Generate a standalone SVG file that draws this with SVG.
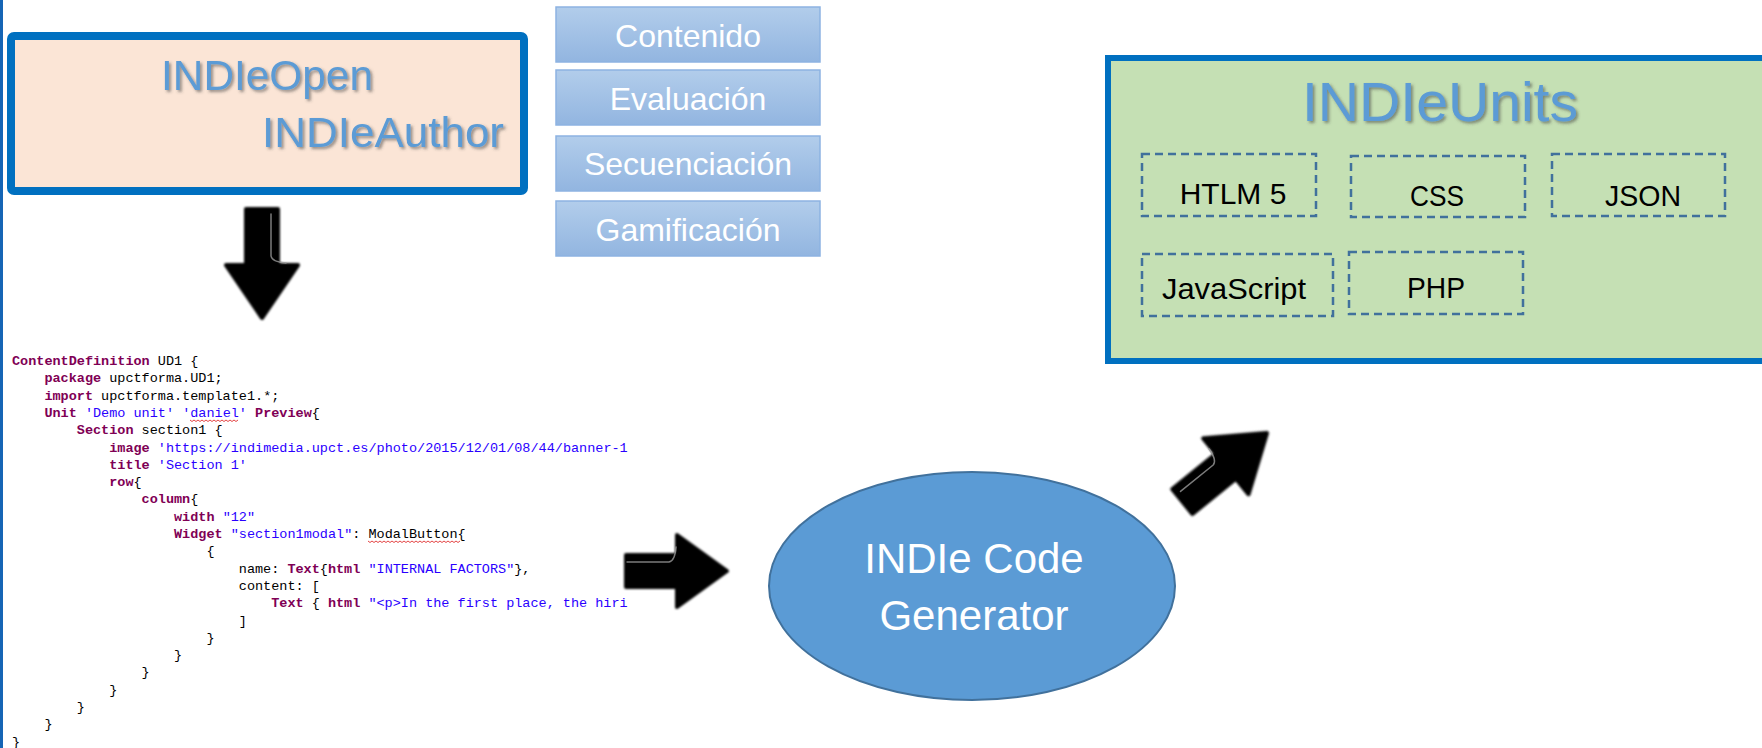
<svg xmlns="http://www.w3.org/2000/svg" width="1762" height="748" viewBox="0 0 1762 748">
<style>
.title{font-family:"Liberation Sans",Arial,sans-serif;fill:#5B9BD5;filter:url(#shadow)}
.tab{font-family:"Liberation Sans",Arial,sans-serif;font-size:32px;fill:#fff;text-anchor:middle}
.tabbox{fill:url(#tabgrad);stroke:#8DB3E2;stroke-width:1.5}
.dash{fill:none;stroke:#41719C;stroke-width:2.5;stroke-dasharray:8 5}
.lang{font-family:"Liberation Sans",Arial,sans-serif;font-size:30px;fill:#000;text-anchor:middle}
.code{font-family:"Liberation Mono","Courier New",monospace;font-size:13.5px;fill:#000;white-space:pre}
.kw{fill:#7F0055;font-weight:bold}
.str{fill:#2A00FF}
.squig{fill:none;stroke:#E03030;stroke-width:0.9}
.arrow{fill:#000;stroke:#000;stroke-width:4;stroke-linejoin:round;filter:url(#soft)}
.hl{fill:none;stroke:#9a9a9a;stroke-width:1.5;stroke-linecap:round;stroke-opacity:0.8}
.gen{font-family:"Liberation Sans",Arial,sans-serif;font-size:42px;fill:#fff;text-anchor:middle}
</style>
<defs>
<linearGradient id="tabgrad" x1="0" y1="0" x2="0" y2="1">
<stop offset="0" stop-color="#B2CDEB"/>
<stop offset="1" stop-color="#92B5E0"/>
</linearGradient>
<filter id="shadow" x="-10%" y="-20%" width="130%" height="150%">
<feDropShadow dx="2" dy="2" stdDeviation="1.5" flood-color="#404040" flood-opacity="0.55"/>
</filter>
<filter id="soft" x="-20%" y="-20%" width="140%" height="140%">
<feGaussianBlur stdDeviation="1.1"/>
</filter>
</defs>

<rect x="0" y="0" width="1762" height="748" fill="#fff"/>
<rect x="0" y="0" width="3" height="748" fill="#1565B5"/>

<g id="indieopen">
<rect x="11" y="36" width="513" height="155" rx="3" fill="#FBE5D6" stroke="#0070C0" stroke-width="8"/>
<text class="title" x="161" y="90" font-size="42" textLength="212" lengthAdjust="spacingAndGlyphs">INDIeOpen</text>
<text class="title" x="262" y="147" font-size="42" textLength="242" lengthAdjust="spacingAndGlyphs">INDIeAuthor</text>
</g>

<g id="contenido"><rect class="tabbox" x="556" y="7" width="264" height="55"/><text class="tab" x="688" y="47">Contenido</text></g>
<g id="evaluacion"><rect class="tabbox" x="556" y="70" width="264" height="55"/><text class="tab" x="688" y="110">Evaluación</text></g>
<g id="secuenciacion"><rect class="tabbox" x="556" y="136" width="264" height="55"/><text class="tab" x="688" y="175">Secuenciación</text></g>
<g id="gamificacion"><rect class="tabbox" x="556" y="201" width="264" height="55"/><text class="tab" x="688" y="241">Gamificación</text></g>

<g id="indieunits">
<rect x="1108" y="58" width="700" height="303" fill="#C5E0B4" stroke="#0070C0" stroke-width="6"/>
<text class="title" x="1302" y="121" font-size="56" textLength="276" lengthAdjust="spacingAndGlyphs">INDIeUnits</text>
</g>
<g id="htlm5"><rect class="dash" x="1142" y="154" width="174" height="62"/><text class="lang" x="1233" y="204">HTLM 5</text></g>
<g id="css"><rect class="dash" x="1351" y="156" width="174" height="61"/><text class="lang" x="1437" y="206" textLength="54" lengthAdjust="spacingAndGlyphs">CSS</text></g>
<g id="json"><rect class="dash" x="1552" y="154" width="173" height="62"/><text class="lang" x="1643" y="206" textLength="76" lengthAdjust="spacingAndGlyphs">JSON</text></g>
<g id="javascript"><rect class="dash" x="1142" y="254" width="191" height="62"/><text class="lang" x="1234" y="299" textLength="144" lengthAdjust="spacingAndGlyphs">JavaScript</text></g>
<g id="php"><rect class="dash" x="1349" y="252" width="174" height="62"/><text class="lang" x="1436" y="298" textLength="58" lengthAdjust="spacingAndGlyphs">PHP</text></g>

<g id="code">
<text class="code" x="12" y="365" xml:space="preserve"><tspan class="kw">ContentDefinition</tspan> UD1 {</text>
<text class="code" x="44.4" y="382.3" xml:space="preserve"><tspan class="kw">package</tspan> upctforma.UD1;</text>
<text class="code" x="44.4" y="399.6" xml:space="preserve"><tspan class="kw">import</tspan> upctforma.template1.*;</text>
<text class="code" x="44.4" y="416.9" xml:space="preserve"><tspan class="kw">Unit</tspan> <tspan class="str">'Demo unit'</tspan> <tspan class="str">'daniel'</tspan> <tspan class="kw">Preview</tspan>{</text>
<text class="code" x="76.8" y="434.2" xml:space="preserve"><tspan class="kw">Section</tspan> section1 {</text>
<text class="code" x="109.2" y="451.5" xml:space="preserve"><tspan class="kw">image</tspan> <tspan class="str">'https://indimedia.upct.es/photo/2015/12/01/08/44/banner-1</tspan></text>
<text class="code" x="109.2" y="468.8" xml:space="preserve"><tspan class="kw">title</tspan> <tspan class="str">'Section 1'</tspan></text>
<text class="code" x="109.2" y="486.1" xml:space="preserve"><tspan class="kw">row</tspan>{</text>
<text class="code" x="141.6" y="503.4" xml:space="preserve"><tspan class="kw">column</tspan>{</text>
<text class="code" x="174" y="520.7" xml:space="preserve"><tspan class="kw">width</tspan> <tspan class="str">"12"</tspan></text>
<text class="code" x="174" y="538" xml:space="preserve"><tspan class="kw">Widget</tspan> <tspan class="str">"section1modal"</tspan>: ModalButton{</text>
<text class="code" x="206.4" y="555.3" xml:space="preserve">{</text>
<text class="code" x="238.8" y="572.6" xml:space="preserve">name: <tspan class="kw">Text</tspan>{<tspan class="kw">html</tspan> <tspan class="str">"INTERNAL FACTORS"</tspan>},</text>
<text class="code" x="238.8" y="589.9" xml:space="preserve">content: [</text>
<text class="code" x="271.2" y="607.2" xml:space="preserve"><tspan class="kw">Text</tspan> { <tspan class="kw">html</tspan> <tspan class="str">"&lt;p&gt;In the first place, the hiri</tspan></text>
<text class="code" x="238.8" y="624.5" xml:space="preserve">]</text>
<text class="code" x="206.4" y="641.8" xml:space="preserve">}</text>
<text class="code" x="174" y="659.1" xml:space="preserve">}</text>
<text class="code" x="141.6" y="676.4" xml:space="preserve">}</text>
<text class="code" x="109.2" y="693.7" xml:space="preserve">}</text>
<text class="code" x="76.8" y="711" xml:space="preserve">}</text>
<text class="code" x="44.4" y="728.3" xml:space="preserve">}</text>
<text class="code" x="12" y="745.6" xml:space="preserve">}</text>
<path class="squig" d="M190 420 l2 1.5 l2 -1.5 l2 1.5 l2 -1.5 l2 1.5 l2 -1.5 l2 1.5 l2 -1.5 l2 1.5 l2 -1.5 l2 1.5 l2 -1.5 l2 1.5 l2 -1.5 l2 1.5 l2 -1.5 l2 1.5 l2 -1.5 l2 1.5 l2 -1.5 l2 1.5 l2 -1.5 l2 1.5 l2 -1.5"/>
<path class="squig" d="M368 541 l2 1.5 l2 -1.5 l2 1.5 l2 -1.5 l2 1.5 l2 -1.5 l2 1.5 l2 -1.5 l2 1.5 l2 -1.5 l2 1.5 l2 -1.5 l2 1.5 l2 -1.5 l2 1.5 l2 -1.5 l2 1.5 l2 -1.5 l2 1.5 l2 -1.5 l2 1.5 l2 -1.5 l2 1.5 l2 -1.5 l2 1.5 l2 -1.5 l2 1.5 l2 -1.5 l2 1.5 l2 -1.5 l2 1.5 l2 -1.5 l2 1.5 l2 -1.5 l2 1.5 l2 -1.5 l2 1.5 l2 -1.5 l2 1.5 l2 -1.5 l2 1.5 l2 -1.5 l2 1.5 l2 -1.5 l2 1.5 l2 -1.5"/>
</g>

<g id="generator">
<ellipse cx="972" cy="586" rx="203" ry="114" fill="#5B9BD5" stroke="#41719C" stroke-width="2"/>
<text class="gen" x="974" y="573">INDIe Code</text>
<text class="gen" x="974" y="630">Generator</text>
</g>

<g id="connectors">
<g transform="translate(262,318) rotate(90)">
<path class="arrow" d="M-109,-16 L-53,-16 L-53,-36 L0,0 L-53,36 L-53,16 L-109,16 Z"/>
<path class="hl" d="M-104,-9 L-62,-9 Q-56,-10 -55,-24"/>
</g>
<g transform="translate(727,571)">
<path class="arrow" d="M-101,-16 L-50,-16 L-50,-36 L0,0 L-50,36 L-50,16 L-101,16 Z"/>
<path class="hl" d="M-100,-9 L-58,-9 Q-52,-10 -51,-24"/>
</g>
<g transform="translate(1267,433) rotate(-39)">
<path class="arrow" d="M-109,-16 L-53,-16 L-53,-36 L0,0 L-53,36 L-53,16 L-109,16 Z"/>
<path class="hl" d="M-104,-9 L-62,-9 Q-56,-10 -55,-24"/>
</g>
</g>
</svg>
